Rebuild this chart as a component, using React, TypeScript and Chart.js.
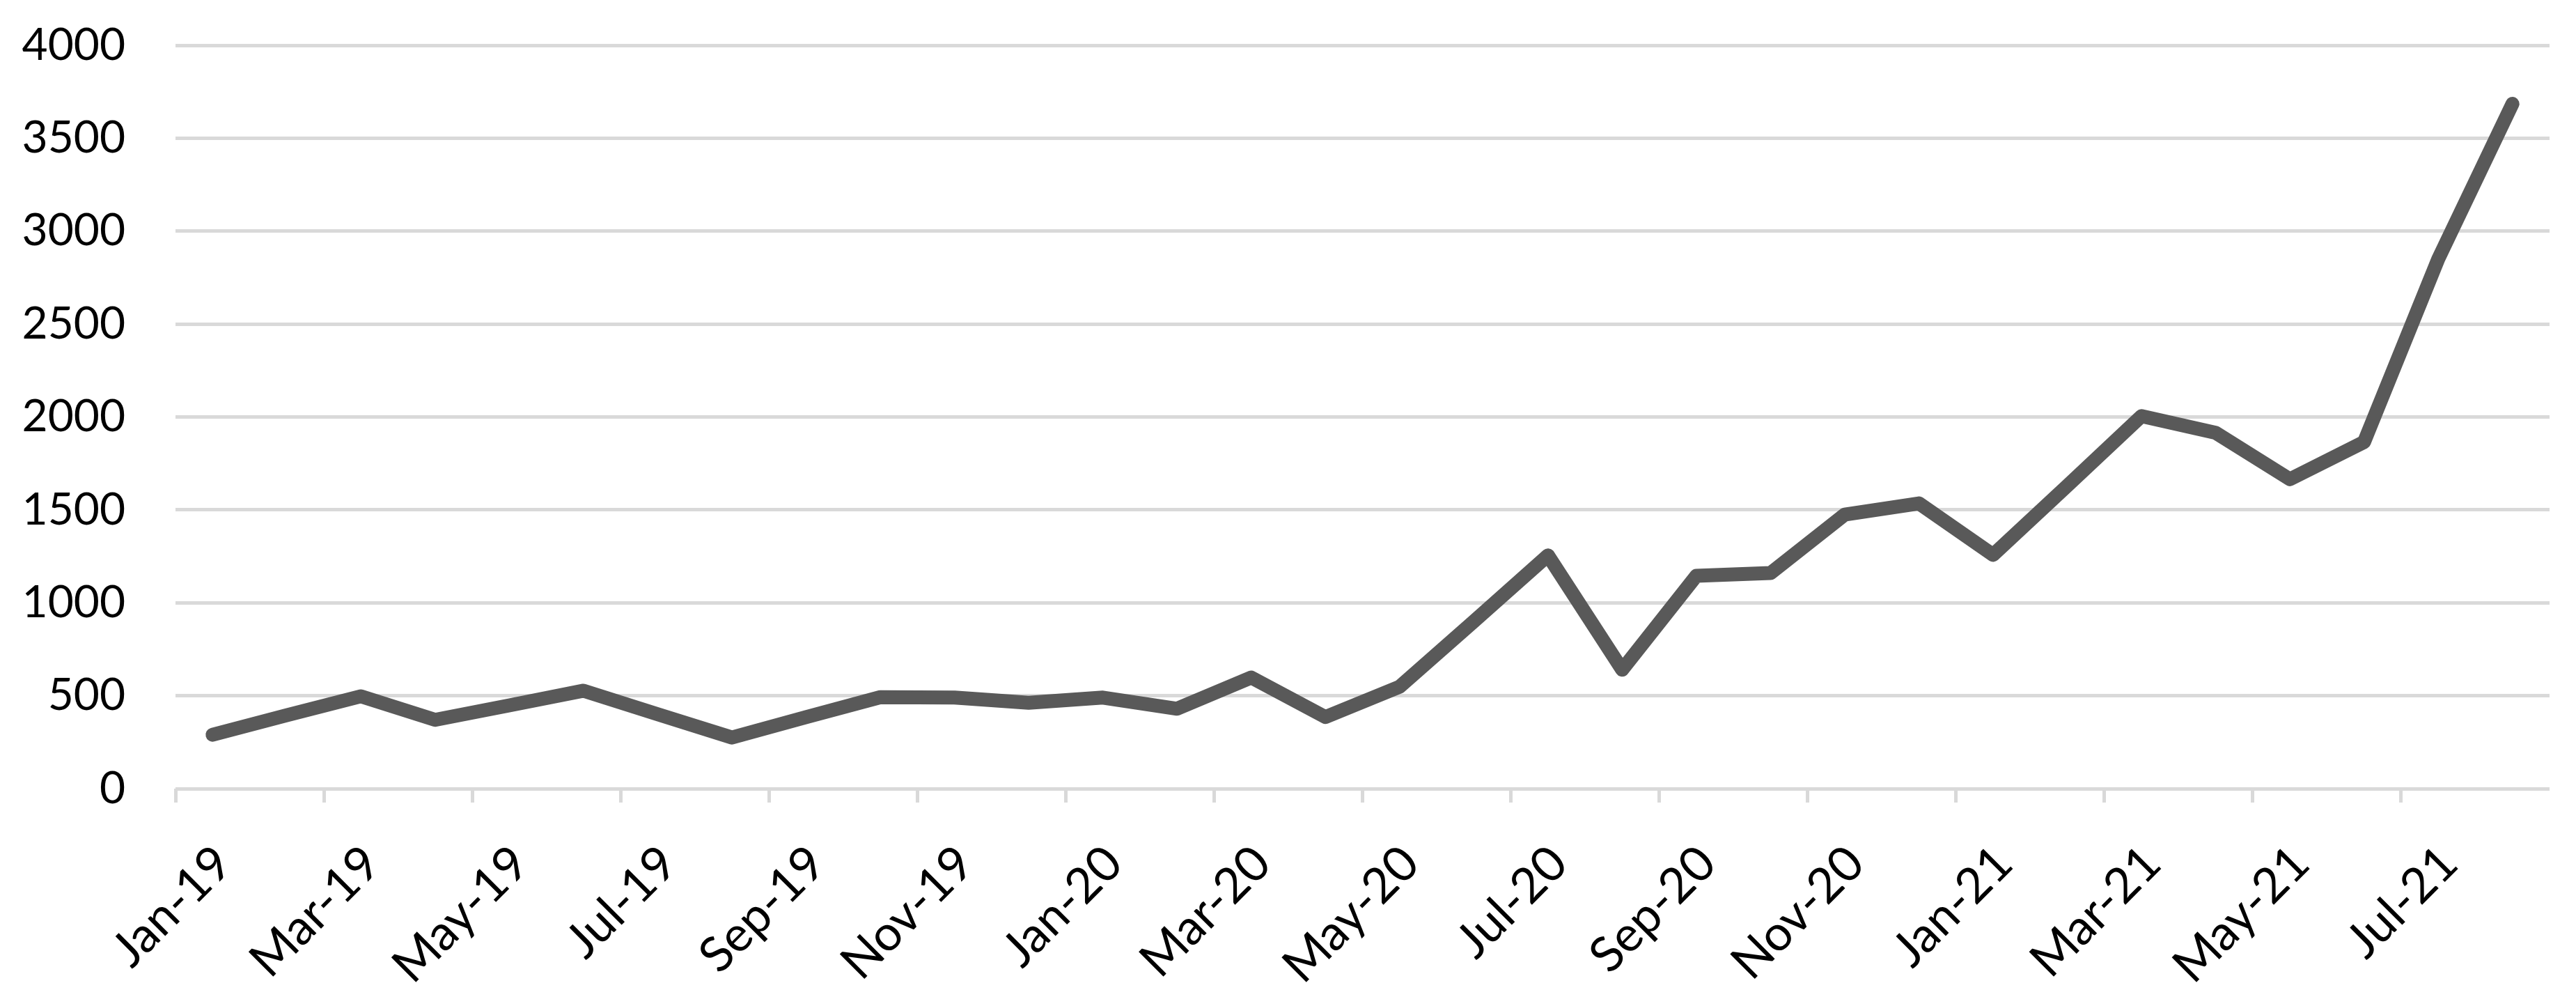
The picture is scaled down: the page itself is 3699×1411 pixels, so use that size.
import React, { useEffect, useRef } from "react";
import { Chart, registerables } from "chart.js";

Chart.register(...registerables);

const months: string[] = [
  "Jan-19", "Feb-19", "Mar-19", "Apr-19", "May-19", "Jun-19", "Jul-19", "Aug-19",
  "Sep-19", "Oct-19", "Nov-19", "Dec-19", "Jan-20", "Feb-20", "Mar-20", "Apr-20",
  "May-20", "Jun-20", "Jul-20", "Aug-20", "Sep-20", "Oct-20", "Nov-20", "Dec-20",
  "Jan-21", "Feb-21", "Mar-21", "Apr-21", "May-21", "Jun-21", "Jul-21", "Aug-21",
];

const values: number[] = [
  290, 395, 497, 370, 448, 527, 400, 275,
  385, 492, 490, 462, 490, 430, 598, 385,
  548, 900, 1255, 640, 1145, 1160, 1475, 1535,
  1258, 1630, 2005, 1915, 1665, 1865, 2850, 3685,
];

const yMin = 0;
const yMax = 4000;
const yStep = 500;

const W = 3699;
const H = 1411;
const FONT = "Lato, 'Noto Sans', sans-serif";

export default function App() {
  const ref = useRef<HTMLCanvasElement | null>(null);

  useEffect(() => {
    document.body.style.margin = "0";
    const canvas = ref.current;
    if (!canvas) return;
    const chart = new Chart(canvas, {
      type: "line",
      data: {
        labels: months,
        datasets: [
          {
            data: values,
            borderColor: "#595959",
            borderWidth: 20,
            borderCapStyle: "round",
            borderJoinStyle: "round",
            pointRadius: 0,
            pointHoverRadius: 0,
            tension: 0,
            fill: false,
          },
        ],
      },
      options: {
        responsive: false,
        animation: false,
        devicePixelRatio: 1,
        layout: { padding: { top: 65, right: 38, bottom: 0, left: 0 } },
        plugins: {
          legend: { display: false },
          tooltip: { enabled: false },
          title: { display: false },
        },
        scales: {
          x: {
            type: "category",
            offset: true,
            grid: {
              offset: true,
              drawOnChartArea: false,
              drawTicks: true,
              tickLength: 20,
              lineWidth: 5,
              color: (ctx: any) => (ctx.index % 2 === 0 ? "#d9d9d9" : "rgba(0,0,0,0)"),
            },
            border: { display: false },
            ticks: {
              autoSkip: false,
              minRotation: 45,
              maxRotation: 45,
              padding: 46,
              labelOffset: 16,
              color: "#000000",
              font: { family: FONT, size: 70 },
              callback: function (this: any, value: any, index: number) {
                return index % 2 === 0 ? this.getLabelForValue(value) : "";
              },
            },
            afterFit: (scale: any) => {
              scale.height = H - 1132;
              scale.paddingLeft = 0;
              scale.paddingRight = 0;
            },
          },
          y: {
            min: yMin,
            max: yMax,
            grid: {
              drawTicks: false,
              lineWidth: 5,
              color: "#d9d9d9",
            },
            border: { display: false },
            ticks: {
              stepSize: yStep,
              padding: 72,
              color: "#000000",
              font: { family: FONT, size: 64 },
              callback: (value: any) => String(value),
            },
            afterFit: (scale: any) => {
              scale.width = 252;
              scale.paddingTop = 0;
              scale.paddingBottom = 0;
            },
          },
        },
      },
    });
    return () => chart.destroy();
  }, []);

  return (
    <div style={{ width: W, height: H, background: "#fff" }}>
      <canvas ref={ref} width={W} height={H} style={{ width: W, height: H, display: "block" }} />
    </div>
  );
}
